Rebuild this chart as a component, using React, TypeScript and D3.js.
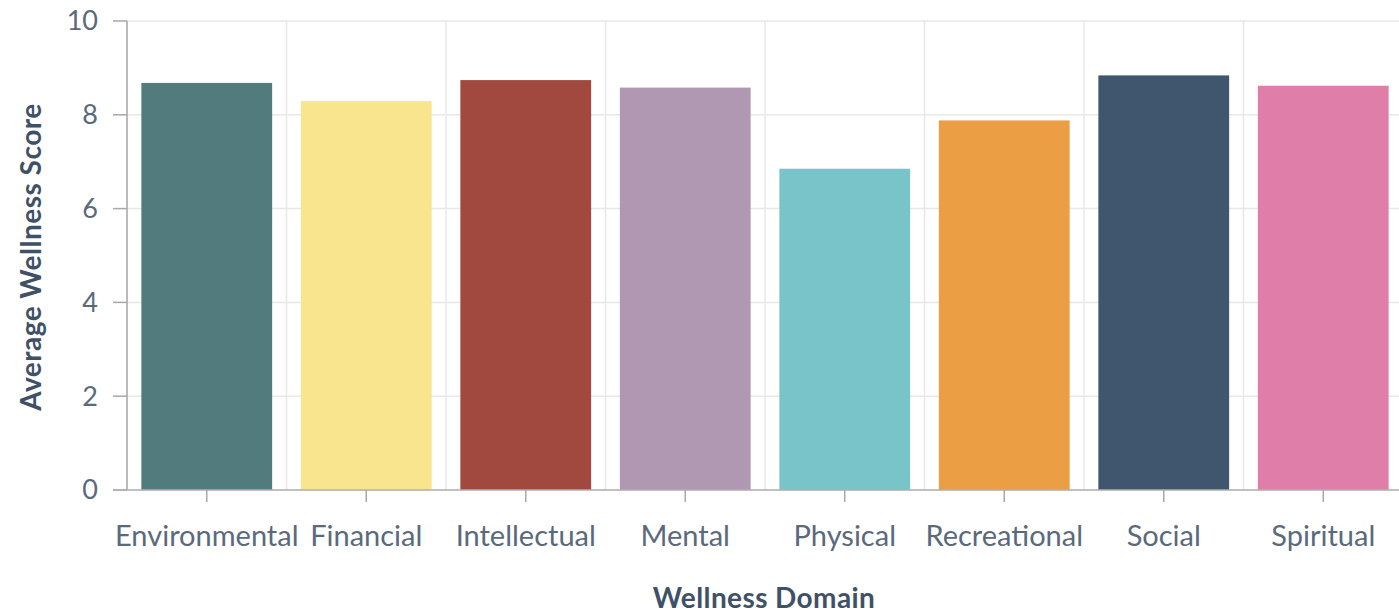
import React from "react";
import * as d3 from "d3";

const categories = ["Environmental", "Financial", "Intellectual", "Mental", "Physical", "Recreational", "Social", "Spiritual"];
const values = [8.68, 8.29, 8.74, 8.58, 6.85, 7.88, 8.84, 8.62];
const colors = ["#527b7e", "#f8e58d", "#a2493f", "#b198b2", "#78c4c8", "#ec9e45", "#40566e", "#df7ea8"];
const yTicks = [0, 2, 4, 6, 8, 10];

const W = 1399;
const H = 613;
const left = 127;
const right = 1403;
const top = 21;
const bottom = 490;

export default function App() {
  const x = d3.scaleBand<string>().domain(categories).range([left, right]).paddingInner(0).paddingOuter(0);
  const y = d3.scaleLinear().domain([0, 10]).range([bottom, top]);
  const step = x.step();
  const bw = step * 0.82;
  const font = "Lato, 'Open Sans', sans-serif";
  const tickColor = "#5a6a7c";
  const titleColor = "#3f5166";
  return (
    <svg width={W} height={H} style={{ position: "absolute", left: 0, top: 0, background: "#fff" }}>
      {yTicks.map((t) => (
        <line key={"hg" + t} x1={left} x2={W} y1={y(t)} y2={y(t)} stroke="#e8e8e8" strokeWidth={1.5} />
      ))}
      {categories.map((c) => (
        <line key={"vg" + c} x1={x(c)!} x2={x(c)!} y1={top} y2={bottom} stroke="#e8e8e8" strokeWidth={1.5} />
      ))}
      {categories.map((c, i) => (
        <rect
          key={c}
          x={x(c)! + (step - bw) / 2}
          y={y(values[i])}
          width={bw}
          height={y(0) - y(values[i])}
          fill={colors[i]}
        />
      ))}
      <line x1={left} x2={left} y1={top} y2={bottom} stroke="#a8a8a8" strokeWidth={1.5} />
      {yTicks.map((t) => (
        <g key={"yt" + t}>
          <line x1={113} x2={left} y1={y(t)} y2={y(t)} stroke="#a8a8a8" strokeWidth={1.5} />
          <text x={98} y={y(t)} dy="0.35em" textAnchor="end" fontFamily={font} fontSize={27} fill={tickColor}>
            {t}
          </text>
        </g>
      ))}
      <line x1={113} x2={W} y1={bottom} y2={bottom} stroke="#b0b0b0" strokeWidth={1.5} />
      {categories.map((c) => (
        <g key={"xt" + c}>
          <line x1={x(c)! + step / 2} x2={x(c)! + step / 2} y1={bottom} y2={bottom + 12} stroke="#a8a8a8" strokeWidth={1.5} />
          <text x={x(c)! + step / 2} y={546} textAnchor="middle" fontFamily={font} fontSize={29} fill={tickColor}>
            {c}
          </text>
        </g>
      ))}
      <text x={764} y={608} textAnchor="middle" fontFamily={font} fontWeight={700} fontSize={28} letterSpacing={0.4} fill={titleColor}>
        Wellness Domain
      </text>
      <text
        transform={`translate(41, 257) rotate(-90)`}
        textAnchor="middle"
        fontFamily={font}
        fontWeight={700}
        fontSize={28}
        letterSpacing={0.5}
        fill={titleColor}
      >
        Average Wellness Score
      </text>
    </svg>
  );
}
